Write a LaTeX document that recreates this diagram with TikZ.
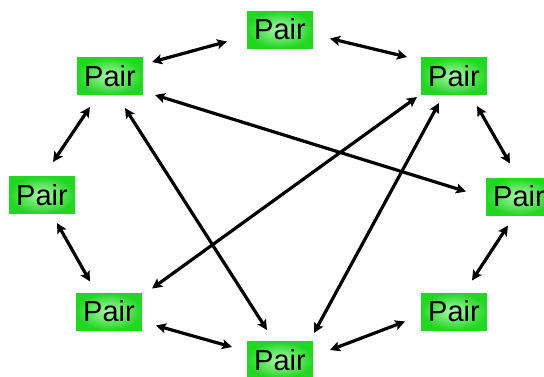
\documentclass[tikz,border=0pt]{standalone}
\usepackage{fontspec}
\setmainfont{Liberation Sans}
\usetikzlibrary{arrows.meta}
\definecolor{boxgreen}{RGB}{34,214,34}
\definecolor{boxlight}{RGB}{175,248,175}
\tikzset{
  pairbox/.style={shading=radial, inner color=boxlight, outer color=boxgreen,
    minimum width=66pt, minimum height=37pt, inner sep=0pt,
    font=\fontsize{29}{34}\selectfont, text=black},
  link/.style={line width=3.2pt, draw=black,
    {Stealth[length=10pt,width=10pt,inset=2pt]}-{Stealth[length=10pt,width=10pt,inset=2pt]}}
}
\begin{document}
\begin{tikzpicture}[x=1pt,y=-1pt]
\useasboundingbox (0,0) rectangle (544,376);
\clip (0,0) rectangle (544,376);
\node[pairbox] (t)  at (280,29.5) {Pair};
\node[pairbox] (tl) at (110,76) {Pair};
\node[pairbox] (tr) at (454,76) {Pair};
\node[pairbox] (l)  at (42,195) {Pair};
\node[pairbox] (r)  at (519,196.5) {Pair};
\node[pairbox] (bl) at (109,311.5) {Pair};
\node[pairbox] (br) at (454,311.5) {Pair};
\node[pairbox] (b)  at (280,360) {Pair};
% ring
\draw[link] ([shift={(42,-14)}]tl.center) -- ([shift={(-53,12)}]t.center);
\draw[link] ([shift={(50,9)}]t.center) -- ([shift={(-47,-19)}]tr.center);
\draw[link] ([shift={(23,30)}]tr.center) -- ([shift={(-9,-33)}]r.center);
\draw[link] ([shift={(-11,29)}]r.center) -- ([shift={(18,-31)}]br.center);
\draw[link] ([shift={(-49,10)}]br.center) -- ([shift={(50,-10)}]b.center);
\draw[link] ([shift={(-48,-13)}]b.center) -- ([shift={(47,14)}]bl.center);
\draw[link] ([shift={(-19,-30)}]bl.center) -- ([shift={(15,28)}]l.center);
\draw[link] ([shift={(11,-33)}]l.center) -- ([shift={(-20,31)}]tl.center);
% diagonals
\draw[link] ([shift={(15,32)}]tl.center) -- ([shift={(-13,-30)}]b.center);
\draw[link] ([shift={(45,19)}]tl.center) -- ([shift={(-53,-5)}]r.center);
\draw[link] ([shift={(-37,21)}]tr.center) -- ([shift={(43,-23)}]bl.center);
\draw[link] ([shift={(-15,27)}]tr.center) -- ([shift={(34,-27)}]b.center);
\end{tikzpicture}
\end{document}
